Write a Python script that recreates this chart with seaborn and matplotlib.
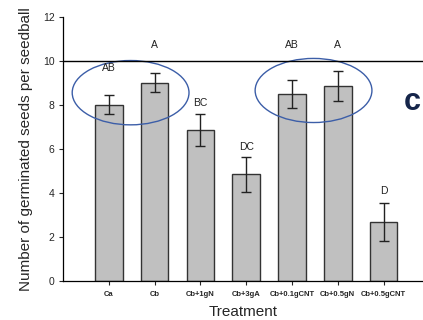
import matplotlib
matplotlib.use("Agg")
import matplotlib.pyplot as plt
from matplotlib.patches import Ellipse
import seaborn as sns
import pandas as pd
import numpy as np

treatments = ["Ca", "Cb", "Cb+1gN", "Cb+3gA", "Cb+0.1gCNT", "Cb+0.5gN", "Cb+0.5gCNT"]
means = [8.0, 9.01, 6.85, 4.84, 8.5, 8.85, 2.68]
errors = [0.44, 0.43, 0.72, 0.78, 0.63, 0.67, 0.85]
letters = ["AB", "A", "BC", "DC", "AB", "A", "D"]
letter_y = [9.66, 10.7, 8.08, 6.1, 10.7, 10.7, 4.08]

sns.set_style("ticks")
plt.rcParams['font.family'] = ['Liberation Sans', 'DejaVu Sans']

df = pd.DataFrame({"Treatment": treatments, "Mean": means})

fig = plt.figure(figsize=(4.23, 3.20), dpi=100)
ax = fig.add_axes([63/423, 1-281/320, 1-63/423, (281-16.7)/320])

sns.barplot(data=df, x="Treatment", y="Mean", color="#c0c0c0", width=0.6,
            edgecolor="#333333", linewidth=1.0, errorbar=None, ax=ax, saturation=1)
x = np.arange(len(treatments))
ax.errorbar(x, means, yerr=errors, fmt="none", ecolor="#222222", elinewidth=1.0,
            capsize=3.5, capthick=1.0)

for xi, lab, ly in zip(x, letters, letter_y):
    ax.text(xi, ly, lab, ha="center", va="center", fontsize=7.5, color="#222222")

ax.axhline(10, color="black", lw=1.0)

ax.add_patch(Ellipse((0.476, 8.55), 2.55, 2.92, fill=False, edgecolor="#3c5ea8", lw=1.0))
ax.add_patch(Ellipse((4.47, 8.65), 2.55, 2.91, fill=False, edgecolor="#3c5ea8", lw=1.0))

ax.text(412/423, 1-101.7/320, "c", transform=fig.transFigure, ha="center", va="center",
        fontsize=22, fontweight="bold", color="#15254a")

ax.set_xlim(-1.0, 6.86)
ax.set_ylim(0, 12)
ax.set_yticks([0, 2, 4, 6, 8, 10, 12])
ax.tick_params(axis="y", labelsize=7.5, length=3, width=0.8, pad=3)
ax.tick_params(axis="x", labelsize=5.5, length=3, width=0.8, pad=4)
for t in ax.get_xticklabels():
    t.set_fontweight("bold")
ax.set_xlabel("Treatment", fontsize=11, labelpad=5)
ax.set_ylabel("Number of germinated seeds per seedball", fontsize=11, labelpad=7)
sns.despine(ax=ax)
for s in ["left", "bottom"]:
    ax.spines[s].set_color("black")
    ax.spines[s].set_linewidth(0.9)

fig.savefig("out.png", dpi=100)
